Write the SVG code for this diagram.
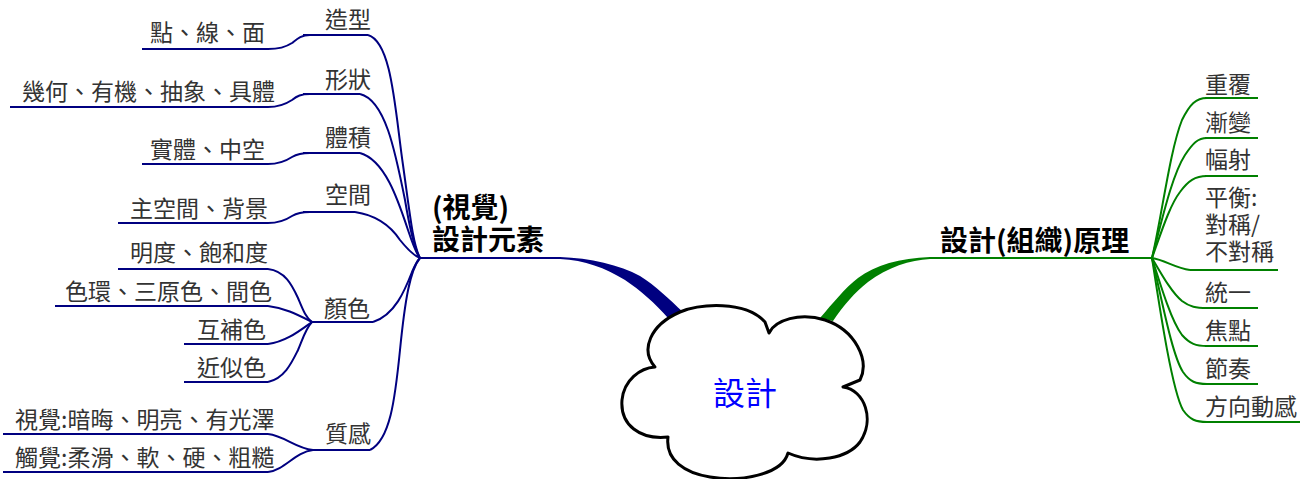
<svg xmlns="http://www.w3.org/2000/svg" width="1312" height="479" viewBox="0 0 1312 479">
<style>
text{font-family:"Noto Sans CJK TC","Noto Sans",sans-serif;fill:#333;font-size:23px}
.main{font-size:28px;font-weight:bold;fill:#000}
.center{font-size:32px;fill:#0000ff}
.lb{fill:none;stroke:#000080;stroke-width:2}
.gr{fill:none;stroke:#008000;stroke-width:2}
</style>
<rect width="1312" height="479" fill="#fff"/>
<g id="connectors">
<path d="M560,257 C590,258 620,265 640,276 C655,285 670,300 683,312 L668,318 C655,303 640,290 625,280 C605,268 585,260 560,259 Z" fill="#000080"/>
<path d="M930,257 C900,258 875,265 858,278 C845,288 833,303 820,318 L833,321 C843,306 855,292 868,282 C888,267 910,260 930,259 Z" fill="#008000"/>
<path class="lb" d="M368,35 C392,42 395,110 403,165 C410,215 413,245 420,258"/>
<path class="lb" d="M360,94 C385,100 395,150 405,200 C410,230 415,250 420,258"/>
<path class="lb" d="M360,153 C385,160 398,200 408,230 C413,245 417,255 420,258"/>
<path class="lb" d="M355,212 C375,215 390,225 400,240 C408,250 415,256 420,258"/>
<path class="lb" d="M373,322 C395,315 405,290 412,272 C415,265 418,260 420,258"/>
<path class="lb" d="M370,450 C390,440 395,400 400,350 C405,300 410,270 420,258"/>
<path class="lb" d="M268,49 C280,49 286,47 292,43 C297,39 301,35 310,35"/>
<path class="lb" d="M268,107 C280,107 286,104 292,100 C297,96 301,94 310,94"/>
<path class="lb" d="M268,164 C280,164 286,161 292,157 C297,154 301,153 310,153"/>
<path class="lb" d="M268,223 C280,223 286,220 292,216 C297,213 301,212 310,212"/>
<path class="lb" d="M268,269 C285,271 292,285 298,298 C303,310 306,318 312,322"/>
<path class="lb" d="M268,306 C285,308 298,315 312,322"/>
<path class="lb" d="M268,344 C285,342 298,332 312,322"/>
<path class="lb" d="M268,382 C285,378 292,362 298,350 C303,338 306,328 312,322"/>
<path class="lb" d="M268,434 C285,436 295,448 313,450"/>
<path class="lb" d="M268,472 C285,470 295,452 313,450"/>
<path class="gr" d="M1152,258 C1162,215 1170,150 1182,120 C1190,104 1196,98 1207,98"/>
<path class="gr" d="M1152,258 C1162,220 1172,175 1185,155 C1193,143 1198,138 1207,138"/>
<path class="gr" d="M1152,258 C1162,230 1170,205 1180,192 C1188,181 1195,176 1207,176"/>
<path class="gr" d="M1152,258 C1165,260 1175,268 1190,270"/>
<path class="gr" d="M1152,258 C1162,275 1172,293 1182,301 C1190,307 1196,308 1207,308"/>
<path class="gr" d="M1152,258 C1162,290 1172,322 1182,335 C1190,344 1196,346 1207,346"/>
<path class="gr" d="M1152,258 C1162,300 1172,355 1183,372 C1190,382 1196,384 1207,384"/>
<path class="gr" d="M1152,258 C1160,310 1172,390 1183,410 C1190,420 1196,422 1207,422"/>
</g>
<g id="center">
<path d="M655,367 C640,350 650,325 680,312 C700,304 745,300 765,322 L769,333 C775,320 800,312 825,320 C855,330 870,360 860,380 L843,387 C865,390 875,420 860,442 C848,458 815,465 788,453 C782,475 740,482 710,477 C685,473 665,460 668,437 C640,440 620,425 622,400 C624,380 640,368 655,367 Z" fill="#fff" stroke="#000" stroke-width="3" stroke-linejoin="round"/>
<text class="center" x="745" y="405" text-anchor="middle">設計</text>
</g>
<g id="elements">
<line class="lb" x1="420" y1="258" x2="561" y2="258"/>
<text class="main" x="432" y="218">(視覺)</text>
<text class="main" x="432" y="250">設計元素</text>
</g>
<g id="principles">
<line class="gr" x1="929" y1="258" x2="1152" y2="258"/>
<text class="main" x="940" y="251">設計(組織)原理</text>
</g>
<g id="n-zaoxing"><line class="lb" x1="303" y1="35" x2="368" y2="35"/><text x="325" y="28">造型</text></g>
<g id="n-xingzhuang"><line class="lb" x1="303" y1="94" x2="360" y2="94"/><text x="325" y="88">形狀</text></g>
<g id="n-tiji"><line class="lb" x1="303" y1="153" x2="360" y2="153"/><text x="325" y="146">體積</text></g>
<g id="n-kongjian"><line class="lb" x1="303" y1="212" x2="355" y2="212"/><text x="325" y="203">空間</text></g>
<g id="n-yanse"><line class="lb" x1="312" y1="322" x2="373" y2="322"/><text x="324" y="317">顏色</text></g>
<g id="n-zhigan"><line class="lb" x1="313" y1="450" x2="370" y2="450"/><text x="325" y="442">質感</text></g>
<g id="n-dian"><line class="lb" x1="142" y1="49" x2="268" y2="49"/><text x="150" y="41">點、線、面</text></g>
<g id="n-jihe"><line class="lb" x1="10" y1="107" x2="268" y2="107"/><text x="22" y="100">幾何、有機、抽象、具體</text></g>
<g id="n-shiti"><line class="lb" x1="142" y1="164" x2="268" y2="164"/><text x="150" y="158">實體、中空</text></g>
<g id="n-zhukongjian"><line class="lb" x1="118" y1="223" x2="268" y2="223"/><text x="130" y="217">主空間、背景</text></g>
<g id="n-mingdu"><line class="lb" x1="118" y1="269" x2="268" y2="269"/><text x="130" y="261">明度、飽和度</text></g>
<g id="n-sehuan"><line class="lb" x1="55" y1="306" x2="268" y2="306"/><text x="65" y="300">色環、三原色、間色</text></g>
<g id="n-hubu"><line class="lb" x1="184" y1="344" x2="268" y2="344"/><text x="197" y="338">互補色</text></g>
<g id="n-jinsi"><line class="lb" x1="184" y1="382" x2="268" y2="382"/><text x="197" y="376">近似色</text></g>
<g id="n-shijue"><line class="lb" x1="3" y1="434" x2="268" y2="434"/><text x="15" y="428">視覺:暗晦、明亮、有光澤</text></g>
<g id="n-chujue"><line class="lb" x1="3" y1="472" x2="268" y2="472"/><text x="15" y="466">觸覺:柔滑、軟、硬、粗糙</text></g>
<g id="n-chongfu"><line class="gr" x1="1205" y1="98" x2="1258" y2="98"/><text x="1205" y="93">重覆</text></g>
<g id="n-jianbian"><line class="gr" x1="1205" y1="138" x2="1258" y2="138"/><text x="1205" y="131">漸變</text></g>
<g id="n-fushe"><line class="gr" x1="1205" y1="176" x2="1258" y2="176"/><text x="1205" y="168">幅射</text></g>
<g id="n-pingheng"><line class="gr" x1="1190" y1="270" x2="1278" y2="270"/><text x="1205" y="206">平衡:</text><text x="1205" y="233">對稱/</text><text x="1205" y="260">不對稱</text></g>
<g id="n-tongyi"><line class="gr" x1="1205" y1="308" x2="1258" y2="308"/><text x="1205" y="301">統一</text></g>
<g id="n-jiaodian"><line class="gr" x1="1205" y1="346" x2="1258" y2="346"/><text x="1205" y="339">焦點</text></g>
<g id="n-jiezou"><line class="gr" x1="1205" y1="384" x2="1258" y2="384"/><text x="1205" y="377">節奏</text></g>
<g id="n-fangxiang"><line class="gr" x1="1205" y1="422" x2="1300" y2="422"/><text x="1205" y="415">方向動感</text></g>
</svg>
